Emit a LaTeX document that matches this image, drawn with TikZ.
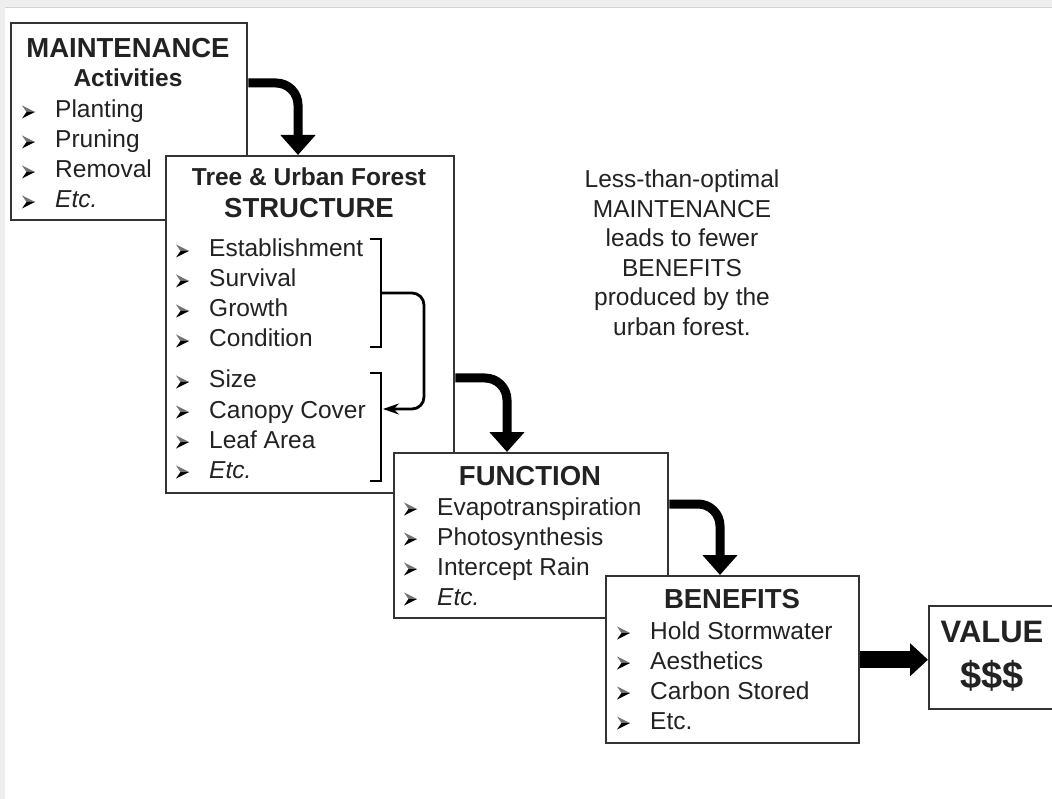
\documentclass[tikz,border=0pt]{standalone}
\usepackage{fontspec}
\setmainfont{Liberation Sans}
\usetikzlibrary{arrows.meta,calc}
\definecolor{darkink}{HTML}{222222}
\definecolor{boxline}{HTML}{333333}
\definecolor{framegray}{HTML}{EEEEEE}

\tikzset{
  box/.style={draw=boxline, line width=2.4pt, fill=white, inner sep=0pt, anchor=north west},
  head/.style={anchor=base, text=darkink, inner sep=0pt, font=\bfseries\fontsize{27.5}{33}\selectfont},
  subhead/.style={anchor=base, text=darkink, inner sep=0pt, font=\bfseries\fontsize{24.5}{29.5}\selectfont},
  item/.style={anchor=base west, text=darkink, inner sep=0pt, font=\fontsize{24.5}{29.5}\selectfont},
  note/.style={anchor=north, align=center, text=darkink, inner sep=0pt, font=\fontsize{24.5}{29.5}\selectfont},
  flow/.style={draw=black, line width=9pt, rounded corners=22pt, -{Triangle[length=20pt,width=34pt]}},
  brace/.style={draw=black, line width=2.8pt},
  bul/.pic={\fill[black!55] (0,-6.5) -- (13,0) -- (4.5,0) -- cycle; \fill[black] (0,6.5) -- (13,0) -- (4.5,0) -- cycle;}
}

\begin{document}
\begin{tikzpicture}[x=1pt,y=-1pt]
\useasboundingbox (0,0) rectangle (1052,799);
\clip (0,0) rectangle (1052,799);
\fill[framegray] (0,0) rectangle (1052,7);
\fill[framegray] (0,7) rectangle (5,799);
\draw[gray!35, line width=0.8pt] (5,7) -- (1052,7);

% maintenance
\node[box, minimum width=236pt, minimum height=197pt] (maint) at (10,22) {};
\node[head] (mhead) at (128,58) {MAINTENANCE};
\node[subhead] (msub) at (128,87) {Activities};
\foreach \t [count=\i] in {Planting,Pruning,Removal,\textit{Etc.}}
  {\pic at (22,82+30*\i) {bul}; \node[item] (m\i) at (55,88+30*\i) {\t};}

% structure
\node[box, minimum width=288pt, minimum height=337pt] (struct) at (165,155) {};
\node[subhead] (shead) at (309,186) {Tree \& Urban Forest};
\node[head] (ssub) at (309,218) {STRUCTURE};
\foreach \t [count=\i] in {Establishment,Survival,Growth,Condition}
  {\pic at (176,221+30*\i) {bul}; \node[item] (s\i) at (209,227+30*\i) {\t};}
\foreach \t [count=\i] in {Size,Canopy Cover,Leaf Area,\textit{Etc.}}
  {\pic at (176,352+30*\i) {bul}; \node[item] (t\i) at (209,358+30*\i) {\t};}
\draw[brace] (370,239) -| (381,347) -- (370,347);
\draw[brace] (370,373) -| (381,481) -- (370,481);
\coordinate (bmid) at (381,293);
\coordinate (bend) at (383,409);
\draw[brace, rounded corners=12pt, -{Stealth[length=16pt,width=11pt]}] (bmid) -- (424,293) |- (bend);

% function
\node[box, minimum width=274pt, minimum height=165pt] (func) at (393,452) {};
\node[head] (fhead) at (530,485) {FUNCTION};
\foreach \t [count=\i] in {Evapotranspiration,Photosynthesis,Intercept Rain,\textit{Etc.}}
  {\pic at (404,479+30*\i) {bul}; \node[item] (f\i) at (437,485+30*\i) {\t};}

% benefits
\node[box, minimum width=253pt, minimum height=167pt] (bene) at (605,575) {};
\node[head] (bhead) at (732,608) {BENEFITS};
\foreach \t [count=\i] in {Hold Stormwater,Aesthetics,Carbon Stored,Etc.}
  {\pic at (617,603+30*\i) {bul}; \node[item] (b\i) at (650,609+30*\i) {\t};}

% value
\node[box, minimum width=150pt, minimum height=103pt] (val) at (928,605) {};
\node[head, font=\bfseries\fontsize{31}{37}\selectfont] (vhead) at (992,642) {VALUE};
\node[head, font=\bfseries\fontsize{38}{44}\selectfont] (vsub) at (992,688) {\$\$\$};

% note
\node[note] (remark) at (682,170) {Less-than-optimal\\MAINTENANCE\\leads to fewer\\BENEFITS\\produced by the\\urban forest.};

% flow arrows
\draw[flow] ($(maint.north east)+(0,61)$) -| ($(struct.north west)+(133,0)$);
\draw[flow] ($(struct.north east)+(0,223)$) -| ($(func.north west)+(114,0)$);
\draw[flow] ($(func.north east)+(0,52)$) -| ($(bene.north west)+(115,0)$);
\draw[draw=black, line width=17pt, -{Triangle[length=18pt,width=32pt]}] (bene.east) -- (bene.east -| val.west);
\end{tikzpicture}
\end{document}
